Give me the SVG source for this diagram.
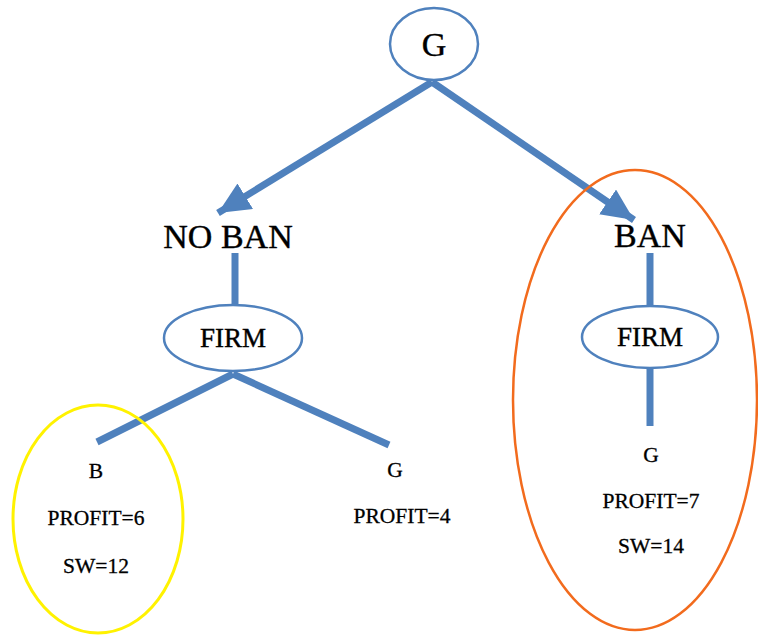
<svg xmlns="http://www.w3.org/2000/svg" width="758" height="635" viewBox="0 0 758 635">
<defs>
<marker id="ah" markerUnits="userSpaceOnUse" markerWidth="34" markerHeight="30" refX="32" refY="15" orient="auto">
<path d="M0,0 L32,15 L0,30 Z" fill="#4F81BD"/>
</marker>
</defs>
<style>
.node{fill:#fff;stroke:#4F81BD;stroke-width:2.5}
.conn{stroke:#4F81BD;stroke-width:7;fill:none}
.t{font-family:"Liberation Serif","DejaVu Serif",serif;fill:#000;stroke:#000;stroke-width:0.4;text-anchor:middle}
.big{font-size:34px}
.mid{font-size:27px}
.sm{font-size:21.5px;stroke-width:0.3}
</style>
<rect width="758" height="635" fill="#fff"/>
<g id="connectors">
<line class="conn" x1="432" y1="82" x2="218" y2="213" marker-end="url(#ah)"/>
<line class="conn" x1="432" y1="82" x2="634" y2="220" marker-end="url(#ah)"/>
<line class="conn" x1="235" y1="253" x2="235" y2="305"/>
<line class="conn" x1="650" y1="253" x2="650" y2="306"/>
<line class="conn" x1="233" y1="374" x2="97" y2="442"/>
<line class="conn" x1="233" y1="374" x2="389" y2="445"/>
<line class="conn" x1="650" y1="367" x2="650" y2="426"/>
</g>
<g id="root-g">
<ellipse class="node" cx="434" cy="44" rx="44" ry="36"/>
<text class="t big" x="434" y="56">G</text>
</g>
<g id="no-ban">
<text class="t big" x="228" y="248">NO BAN</text>
</g>
<g id="ban">
<text class="t big" x="650" y="247">BAN</text>
</g>
<g id="firm-left">
<ellipse class="node" cx="233" cy="338" rx="69" ry="33"/>
<text class="t mid" x="233" y="347">FIRM</text>
</g>
<g id="firm-right">
<ellipse class="node" cx="650" cy="337" rx="68" ry="31"/>
<text class="t mid" x="650" y="346">FIRM</text>
</g>
<g id="outcome-b">
<ellipse cx="98" cy="519" rx="85" ry="114" fill="none" stroke="#FFF200" stroke-width="3"/>
<text class="t sm" x="96" y="478">B</text>
<text class="t sm" x="96" y="525">PROFIT=6</text>
<text class="t sm" x="96" y="573">SW=12</text>
</g>
<g id="outcome-g-left">
<text class="t sm" x="395" y="477">G</text>
<text class="t sm" x="402" y="523">PROFIT=4</text>
</g>
<g id="outcome-g-right">
<ellipse cx="635" cy="400" rx="122" ry="230" fill="none" stroke="#F26B1D" stroke-width="2.5"/>
<text class="t sm" x="651" y="462">G</text>
<text class="t sm" x="651" y="508">PROFIT=7</text>
<text class="t sm" x="651" y="553">SW=14</text>
</g>
</svg>
